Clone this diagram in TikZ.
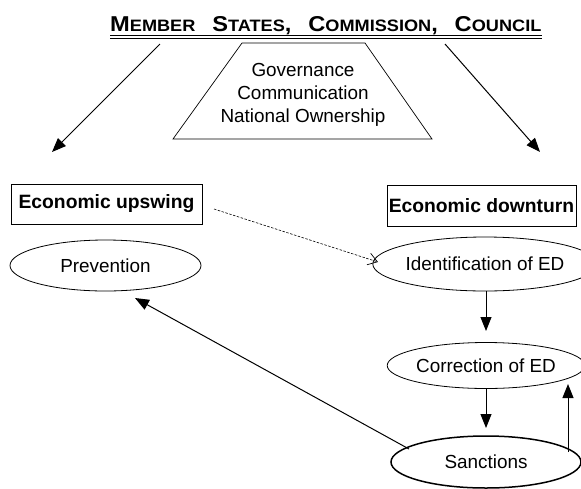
\documentclass[tikz,border=0pt]{standalone}
\usepackage{fontspec}
\usepackage{graphicx}
\setmainfont{Liberation Sans}
\usetikzlibrary{arrows.meta,shapes.geometric}
\newcommand{\ttlbig}[1]{{\fontsize{21.5}{22}\selectfont #1}}
\newcommand{\ttlsmall}[1]{{\fontsize{16.5}{17}\selectfont #1}}
\begin{document}
\begin{tikzpicture}[x=1pt,y=-1pt,
  arr/.style={line width=1pt,-{Triangle[length=14pt,width=11pt]}},
  dasharr/.style={line width=0.6pt,dash pattern=on 2.5pt off 1.5pt,-{Straight Barb[length=9pt,width=12pt,line width=0.7pt]}},
  boxnode/.style={draw,line width=0.8pt,inner sep=0pt,minimum height=40pt,font=\fontsize{19.3}{20}\selectfont\bfseries},
  ellnode/.style={draw,ellipse,line width=0.8pt,inner sep=0pt,font=\fontsize{18.9}{20}\selectfont},
  plaintext/.style={inner sep=0pt,align=center,font=\fontsize{18.9}{23}\selectfont}]
\useasboundingbox (0,0) rectangle (581,488);
% title
\node[anchor=base west,inner sep=0pt] (title) at (110,31.7)
  {\scalebox{1.1}[1]{\bfseries\makebox[392pt][s]{\ttlbig{M}\ttlsmall{EMBER} \ttlbig{S}\ttlsmall{TATES}\ttlbig{,} \ttlbig{C}\ttlsmall{OMMISSION}\ttlbig{,} \ttlbig{C}\ttlsmall{OUNCIL}}}};
\draw[line width=0.8pt] (110,35.6) -- (542,35.6);
\draw[line width=0.8pt] (110,38.2) -- (542,38.2);
% trapezium
\draw[line width=0.7pt] (242,43) -- (365,43) -- (432,139) -- (173,139) -- cycle;
\node[plaintext] (gov) at (303,95) {Governance\\Communication\\National Ownership};
% boxes
\node[boxnode,minimum width=191pt] (up) at (106.5,204) {Economic upswing};
\node[boxnode,minimum width=189pt,minimum height=41pt] (down) at (481.5,205.5) {Economic downturn};
% ellipses
\node[ellnode,minimum width=191pt,minimum height=51pt] (prev) at (105.5,265.5) {Prevention};
\node[ellnode,minimum width=191pt,minimum height=54pt] (ident) at (485,264) {Identification of ED};
\node[ellnode,minimum width=190pt,minimum height=46pt] (corr) at (486,365.5) {Correction of ED};
\node[ellnode,line width=1.5pt,minimum width=190pt,minimum height=52pt] (sanc) at (486,462) {Sanctions};
% coordinates
\coordinate (lA) at (160,44);
\coordinate (lB) at (52,152);
\coordinate (rA) at (445,44);
\coordinate (rB) at (540,152);
\coordinate (dA) at (214,209);
\coordinate (dB) at (378,262);
\coordinate (v1A) at (486,291);
\coordinate (v1B) at (486,331);
\coordinate (v2A) at (486,388);
\coordinate (v2B) at (486,428);
\coordinate (uA) at (568,452);
\coordinate (uB) at (568,384);
\coordinate (sA) at (409,449);
\coordinate (sB) at (135,298);
% connectors
\draw[arr] (lA) -- (lB);
\draw[arr] (rA) -- (rB);
\draw[dasharr] (dA) -- (dB);
\draw[arr] (v1A) -- (v1B);
\draw[arr] (v2A) -- (v2B);
\draw[arr] (uA) -- (uB);
\draw[arr] (sA) -- (sB);
\end{tikzpicture}
\end{document}
